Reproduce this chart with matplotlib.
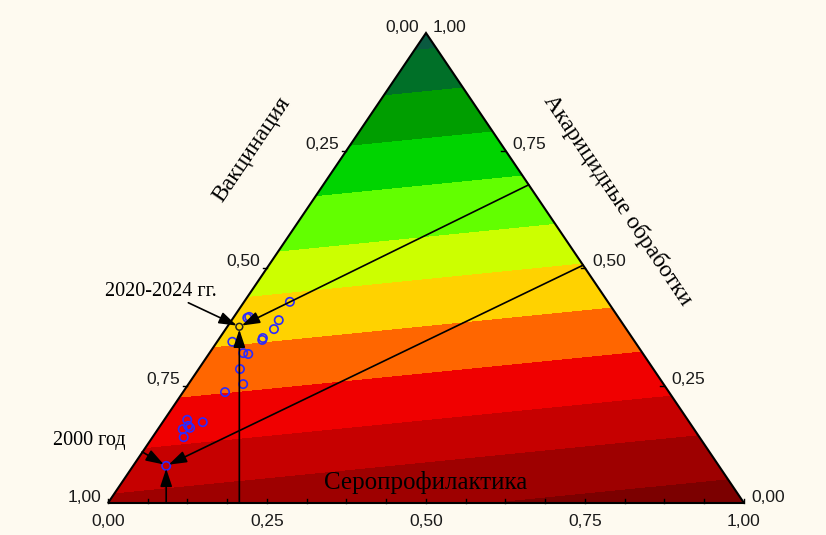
import numpy as np
import matplotlib
matplotlib.use("Agg")
import matplotlib.pyplot as plt
from matplotlib.patches import Polygon, Rectangle

# ---------------- data (ternary fractions) ----------------
# components: Вакцинация (bottom-left vertex), Акарицидные обработки (top vertex),
# Серопрофилактика (bottom-right vertex)
vaccination = [0.500, 0.580, 0.584, 0.537, 0.554, 0.581, 0.584, 0.633, 0.628, 0.621,
               0.650, 0.661, 0.698, 0.787, 0.765, 0.804, 0.791, 0.792, 0.811, 0.869]
acaricide = [0.428, 0.396, 0.394, 0.389, 0.370, 0.351, 0.347, 0.343, 0.319, 0.317,
             0.285, 0.253, 0.236, 0.177, 0.172, 0.157, 0.160, 0.164, 0.140, 0.079]
seroprophylaxis = [0.072, 0.024, 0.022, 0.074, 0.076, 0.068, 0.069, 0.024, 0.053, 0.062,
                   0.065, 0.086, 0.066, 0.036, 0.063, 0.039, 0.049, 0.044, 0.049, 0.052]

# highlighted points: 2020-2024 mean and 2000
hl_labels = ["2020-2024 гг.", "2000 год"]
hl_vacc = [0.606, 0.869]
hl_acar = [0.375, 0.079]
hl_sero = [0.019, 0.052]
hl_right_edge_acar = [0.677, 0.506]   # where the guide line meets the right axis

# fitted surface coefficients (linear mixture model) and contour levels
coef_vacc, coef_acar, coef_sero = 0.0, 0.9325, -0.135
levels = [-0.30, -0.08, 0.02, 0.11, 0.21, 0.31, 0.41, 0.50, 0.61, 0.71, 0.81, 0.90, 1.20]
band_colors = ["#7c0000", "#9e0000", "#c60000", "#f00000", "#ff6600", "#ffd200",
               "#ccff00", "#62ff00", "#00d400", "#009e00", "#007028", "#0a5a40"]

tick_vals = [0.0, 0.25, 0.5, 0.75, 1.0]
tick_text = ["0,00", "0,25", "0,50", "0,75", "1,00"]

axis_left = "Вакцинация"
axis_right = "Акарицидные обработки"
axis_bottom = "Серопрофилактика"

BG = "#fefaf0"


def tern(acar, sero):
    a = np.asarray(acar, float)
    s = np.asarray(sero, float)
    return s + 0.5 * a, a


fig = plt.figure(figsize=(8.26, 5.35), dpi=100, facecolor=BG)
ax = fig.add_axes([0, 0, 1, 1])
ax.set_facecolor(BG)
ax.set_xlim(-108 / 636, (826 - 108) / 636)
ax.set_ylim(-32 / 470, (535 - 32) / 470)
ax.axis("off")

# ---------------- contour surface ----------------
gx, gy = np.meshgrid(np.linspace(-0.01, 1.01, 500), np.linspace(-0.01, 1.01, 500))
acar_g = gy
sero_g = gx - 0.5 * gy
vacc_g = 1 - acar_g - sero_g
z = coef_vacc * vacc_g + coef_acar * acar_g + coef_sero * sero_g
cf = ax.contourf(gx, gy, z, levels=levels, colors=band_colors, antialiased=False)
tri = Polygon([[0, 0], [1, 0], [0.5, 1]], closed=True, facecolor="none",
              edgecolor="black", lw=1.5, zorder=5)
ax.add_patch(tri)
cf.set_clip_path(tri)

# ---------------- ticks ----------------
px_x = 1 / 636
px_y = 1 / 470
TFS = 12.5
for i in range(17):
    v = i / 16
    ax.plot([v, v], [0, 4 * px_y], color="black", lw=1, zorder=5)
for v, t in zip(tick_vals, tick_text):
    # bottom axis
    ax.text(v, -18 * px_y, t, ha="center", va="center", fontsize=TFS,
            family="Liberation Sans", color="#1a1a1a")
    # left axis (0 at top vertex, 1 at bottom-left)
    lx, ly = 0.5 * (1 - v), 1 - v
    if 0 < v < 1:
        ax.plot([lx - 4 * px_x, lx], [ly, ly], color="black", lw=1, zorder=5)
    ax.text(lx - 7 * px_x, ly + 6 * px_y, t, ha="right", va="center", fontsize=TFS,
            family="Liberation Sans", color="#1a1a1a")
    # right axis (1 at top vertex, 0 at bottom-right)
    rx, ry = 1 - 0.5 * v, v
    if 0 < v < 1:
        ax.plot([rx - 4 * px_x, rx], [ry, ry], color="black", lw=1, zorder=5)
    ax.text(rx + 7 * px_x, ry + 6 * px_y, t, ha="left", va="center", fontsize=TFS,
            family="Liberation Sans", color="#1a1a1a")

# ---------------- axis titles ----------------
ax.text((252 - 108) * px_x, (503 - 150) * px_y, axis_left, rotation=56,
        ha="center", va="center", fontsize=17, family="Liberation Serif")
ax.text((618 - 108) * px_x, (503 - 200) * px_y, axis_right, rotation=-56,
        ha="center", va="center", fontsize=17, family="Liberation Serif")
tb = ax.text(0.5, (503 - 483) * px_y, axis_bottom, ha="center", va="center",
             fontsize=18, family="Liberation Serif", zorder=6)
clip_rect = Rectangle((0, 13 * px_y), 1, 0.5, transform=ax.transData,
                      facecolor="none", edgecolor="none")
ax.add_patch(clip_rect)
tb.set_clip_path(clip_rect)

# ---------------- scatter ----------------
sx, sy = tern(acaricide, seroprophylaxis)
ax.scatter(sx, sy, s=36, facecolors="none", edgecolors="#2a2aff", linewidths=1.2, zorder=7)
hx, hy = tern(hl_acar, hl_sero)
ax.scatter(hx[:1], hy[:1], s=24, facecolors="none", edgecolors="#222222", linewidths=1.1, zorder=8)

# ---------------- guide lines with arrows ----------------
arrow_kw = dict(arrowstyle="-|>,head_length=0.6,head_width=0.2", color="black", lw=1.2,
                mutation_scale=18, shrinkA=0, shrinkB=2)
text_offsets = [(-51, 24), (-24, 14)]
label_pos = [(161, 291), (89, 440)]
for i in range(2):
    px, py = hx[i], hy[i]
    # from bottom axis straight up
    ax.annotate("", xy=(px, py), xytext=(px, 0), arrowprops=arrow_kw, zorder=9)
    # from the right axis
    ra = hl_right_edge_acar[i]
    ax.annotate("", xy=(px, py), xytext=(1 - 0.5 * ra, ra), arrowprops=arrow_kw, zorder=9)
    # from the label
    ax.annotate("", xy=(px, py), xytext=text_offsets[i], textcoords="offset pixels",
                arrowprops=arrow_kw, zorder=9)
    ax.text((label_pos[i][0] - 108) * px_x, (503 - label_pos[i][1]) * px_y, hl_labels[i],
            ha="center", va="center", fontsize=14.5, family="Liberation Serif")

fig.savefig("out.png", dpi=100, facecolor=BG)
